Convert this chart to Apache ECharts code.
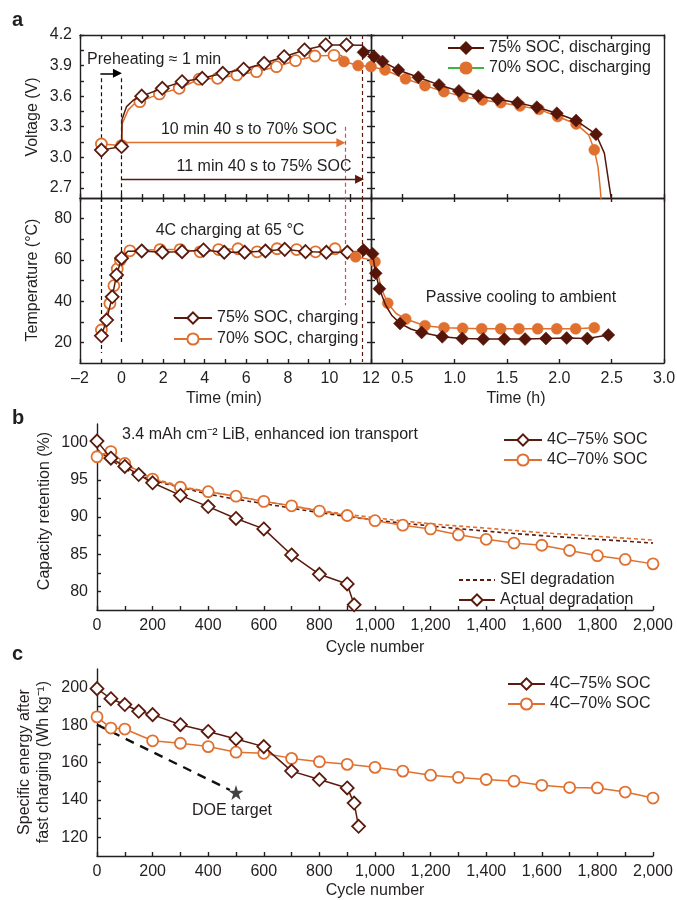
<!DOCTYPE html>
<html><head><meta charset="utf-8">
<script src="https://cdn.jsdelivr.net/npm/echarts@6/dist/echarts.min.js"></script>
<style>html,body{margin:0;padding:0;background:#fff}#c{width:677px;height:900px}</style>
</head><body><div id="c"></div><script>
// ================= DATA =================
// tick values / labels
const minTicks = [-2,-1,0,1,2,3,4,5,6,7,8,9,10,11,12];
const minLabels = [-2,0,2,4,6,8,10,12];
const hourTicks = [0.5,1.0,1.5,2.0,2.5,3.0];
const voltTicks = [2.7,2.85,3.0,3.15,3.3,3.45,3.6,3.75,3.9,4.05,4.2];
const voltLabels = [2.7,3.0,3.3,3.6,3.9,4.2];
const tempTicks = [20,30,40,50,60,70,80];
const tempLabels = [20,40,60,80];
const cycTicks = [0,100,200,300,400,500,600,700,800,900,1000,1100,1200,1300,1400,1500,1600,1700,1800,1900,2000];
const cycLabels = [0,200,400,600,800,1000,1200,1400,1600,1800,2000];
const capTicks = [80,82.5,85,87.5,90,92.5,95,97.5,100];
const capLabels = [80,85,90,95,100];
const enTicks = [120,130,140,150,160,170,180,190,200];
const enLabels = [120,140,160,180,200];

// Panel a: voltage during charging (time, min) – markers and extra curve points
const vCh75Mk = [[-0.97,3.07],[0,3.105],[0.97,3.60],[1.96,3.677],[2.91,3.742],[3.88,3.775],[4.87,3.824],[5.87,3.864],[6.86,3.922],[7.82,3.987],[8.8,4.053],[9.82,4.102],[10.82,4.102]];
const vCh75Ln = [[0.02,3.37],[0.24,3.497],[0.56,3.56],[11.58,4.10],[11.66,4.03]];
const vCh70Mk = [[-0.97,3.13],[0,3.115],[0.88,3.546],[1.82,3.622],[2.77,3.677],[3.73,3.766],[4.62,3.775],[5.55,3.808],[6.49,3.84],[7.45,3.889],[8.37,3.948],[9.3,3.994],[10.22,4.0]];
const vCh70Ln = [[0.03,3.33],[0.32,3.465],[0.64,3.53],[10.58,4.0],[10.7,3.94]];
// discharging, left part (min)
const vDis75LMk = [[11.64,4.03]];
const vDis75LLn = [[12,4.0]];
const vDis70LMk = [[10.7,3.94],[11.38,3.9],[12.0,3.89]];
// discharging, right part (h)
const vDis75RMk = [[0.23,3.99],[0.31,3.94],[0.461,3.857],[0.652,3.785],[0.85,3.71],[1.04,3.651],[1.225,3.602],[1.41,3.57],[1.6,3.536],[1.785,3.491],[1.976,3.432],[2.16,3.36],[2.35,3.226]];
const vDis75RLn = [[0.2,4.0],[2.43,3.04],[2.48,2.7],[2.51,2.5]];
const vDis70RMk = [[0.334,3.857],[0.53,3.77],[0.716,3.703],[0.897,3.644],[1.08,3.595],[1.264,3.563],[1.44,3.536],[1.624,3.504],[1.805,3.47],[1.984,3.40],[2.16,3.327],[2.334,3.073]];
const vDis70RLn = [[0.2,3.89],[2.28,3.22],[2.37,2.9],[2.39,2.7],[2.405,2.5]];

// Panel a: temperature during charging (min)
const tCh75Mk = [[-0.97,23.2],[-0.72,30.8],[-0.45,42.1],[-0.24,52.7],[0,60.8],[0.97,64.3],[1.96,63.7],[2.91,64.0],[3.94,64.8],[4.94,63.7],[5.92,63.7],[6.92,64.3],[7.85,65.1],[8.85,64.0],[9.85,63.7],[10.86,63.7]];
const tCh75Ln = [[0.3,64.2],[11.5,64.2],[11.64,64.8]];
const tCh70Mk = [[-0.97,26.0],[-0.56,38.9],[-0.37,47.5],[-0.21,55.6],[-0.06,60.0],[0.4,64.4],[1.85,65.0],[2.82,65.0],[3.78,63.9],[4.67,65.0],[5.6,65.4],[6.52,63.9],[7.48,65.4],[8.42,65.0],[9.33,63.9],[10.27,65.4]];
const tCh70Ln = [[0.2,63.5],[10.7,64.5],[11.26,61.5]];
const tDis75LMk = [[11.64,64.8]];
const tDis75LLn = [[12,64.0]];
const tDis70LMk = [[11.26,61.5]];
const tDis70LLn = [[12,60.0]];
// cooling (h)
const tDis75RMk = [[0.215,63.0],[0.245,53.5],[0.28,46.0],[0.477,29.2],[0.684,24.8],[0.881,22.7],[1.072,21.9],[1.273,21.6],[1.474,21.6],[1.672,21.6],[1.872,21.9],[2.07,22.1],[2.267,21.9],[2.468,23.6]];
const tDis75RLn = [[0.2,64.0],[0.34,38.0],[0.4,33.0],[0.58,26.5]];
const tDis70RMk = [[0.238,59.1],[0.36,39.0],[0.532,31.3],[0.716,28.1],[0.898,27.1],[1.076,26.8],[1.258,26.6],[1.44,26.6],[1.614,26.6],[1.793,26.6],[1.975,26.6],[2.156,26.6],[2.334,27.1]];
const tDis70RLn = [[0.2,60.0],[0.3,46.0],[0.44,34.0]];

// Panel b: capacity retention (%) vs cycle
const b75 = [[0,100.2],[50,97.9],[100,96.8],[150,95.7],[200,94.6],[300,92.9],[400,91.4],[500,89.8],[600,88.4],[700,84.9],[800,82.3],[900,81.0],[925,78.2]];
const b70 = [[0,98.1],[50,98.8],[100,97.2],[200,95.1],[300,94.0],[400,93.4],[500,92.8],[600,92.1],[700,91.5],[800,90.8],[900,90.2],[1000,89.5],[1100,88.9],[1200,88.4],[1300,87.6],[1400,87.0],[1500,86.5],[1600,86.2],[1700,85.5],[1800,84.8],[1900,84.3],[2000,83.7]];
const sei75 = [[0,99.1],[100,96.5],[200,95.0],[300,94.0],[400,93.1],[500,92.4],[600,91.8],[800,90.6],[1000,89.6],[1200,88.8],[1400,88.1],[1600,87.5],[1800,87.0],[2000,86.5]];
const sei70 = [[0,98.3],[100,97.0],[200,95.3],[300,94.2],[400,93.4],[500,92.8],[600,92.1],[800,90.9],[1000,89.9],[1200,89.1],[1400,88.5],[1600,87.9],[1800,87.4],[2000,86.9]];

// Panel c: specific energy (Wh/kg) vs cycle
const c75 = [[0,199.5],[50,194.1],[100,191.0],[150,187.4],[200,185.6],[300,180.2],[400,176.6],[500,172.6],[600,168.5],[700,155.4],[800,150.9],[900,146.4],[925,138.3],[941,125.9]];
const c70 = [[0,184.4],[50,178.4],[100,177.9],[200,171.6],[300,170.3],[400,168.5],[500,165.5],[600,164.9],[700,162.2],[800,160.4],[900,159.0],[1000,157.4],[1100,155.4],[1200,153.2],[1300,152.0],[1400,150.9],[1500,150.0],[1600,147.8],[1700,146.6],[1800,146.4],[1900,144.2],[2000,141.0]];
const doeLine = [[0,180.2],[478,145.3]];
const doeStar = [[500,143.9]];

// annotation lines (data coords)
const preheatArrow = [[-1.02,3.824],[-0.2,3.824]];
const arrow70 = [[0,3.143],[10.55,3.143]];
const arrow75 = [[0,2.784],[11.45,2.784]];

// ================= CHART =================
const DARK = '#5a1a0e', DARKF = '#561509', ORANGE = '#e0702f', RED = '#e8424f', GREEN = '#3bb54a', INK = '#231f20';
const FONT = '"Liberation Sans", Arial, Helvetica, sans-serif';
const FS = 16;

function merge(mk, ln) {
  const pts = mk.map(p => ({v: p, m: 1})).concat((ln || []).map(p => ({v: p, m: 0})));
  pts.sort((a, b) => a.v[0] - b.v[0]);
  return pts.map(p => p.m ? {value: p.v} : {value: p.v, symbol: 'none'});
}
function ser(name, xi, yi, data, sym, filled, color, z) {
  return {
    type: 'line', name, xAxisIndex: xi, yAxisIndex: yi, data,
    symbol: sym, symbolSize: sym === 'diamond' ? 13 : 11, showSymbol: true, showAllSymbol: true,
    clip: true, z: z, animation: false,
    itemStyle: filled ? {color: color, borderColor: color, borderWidth: 0.5} : {color: '#fff', borderColor: color, borderWidth: 1.8},
    lineStyle: {color: color, width: 1.5},
    emphasis: {disabled: true}
  };
}
function seg(xi, yi, coords, color, dashed, arrow, width) {
  return {
    type: 'lines', coordinateSystem: 'cartesian2d', xAxisIndex: xi, yAxisIndex: yi,
    polyline: false, silent: true, animation: false, z: 1,
    symbol: arrow ? ['none', 'triangle'] : ['none', 'none'], symbolSize: arrow ? [7, 9] : 0,
    lineStyle: {color: color, width: width || 1.2, type: dashed ? [4, 3] : 'solid', opacity: 1},
    data: [{coords: coords}]
  };
}
const lineSt = {color: INK, width: 1.4};
const fmtCyc = v => v >= 1000 ? Math.floor(v / 1000) + ',' + String(v % 1000).padStart(3, '0') : String(v);
const fmtMin = v => v < 0 ? '\u2013' + (-v) : String(v);

function ax(o) {
  const a = {
    type: 'value', splitLine: {show: false},
    axisLine: {show: true, onZero: false, lineStyle: lineSt},
    axisTick: {show: true, inside: true, length: 4, lineStyle: lineSt},
    axisLabel: {show: false}
  };
  if (o.ticks) { a.axisTick.customValues = o.ticks; delete o.ticks; }
  if (o.noTick) { a.axisTick.show = false; delete o.noTick; }
  if (o.labels) {
    a.axisLabel = {show: true, customValues: o.labels, formatter: o.fmt || (v => String(v)),
      color: INK, fontFamily: FONT, fontSize: FS, margin: o.margin || 8};
    delete o.labels; delete o.fmt; delete o.margin;
  }
  return Object.assign(a, o);
}

const grids = [
  {left: 80, top: 35, width: 291, height: 163},
  {left: 371, top: 35, width: 293, height: 163},
  {left: 80, top: 198, width: 291, height: 165},
  {left: 371, top: 198, width: 293, height: 165},
  {left: 97, top: 424, width: 556, height: 186},
  {left: 97, top: 669, width: 556, height: 187}
].map(g => Object.assign(g, {outerBoundsMode: 'none', containLabel: false}));

const xAxis = [
  ax({gridIndex: 0, position: 'bottom', min: -2, max: 12, ticks: minTicks}),
  ax({gridIndex: 0, position: 'top', min: -2, max: 12, ticks: minTicks}),
  ax({gridIndex: 1, position: 'bottom', min: 0.2, max: 3.0, ticks: hourTicks}),
  ax({gridIndex: 1, position: 'top', min: 0.2, max: 3.0, ticks: hourTicks}),
  ax({gridIndex: 2, position: 'bottom', min: -2, max: 12, ticks: minTicks, labels: minLabels, fmt: fmtMin}),
  ax({gridIndex: 2, position: 'top', min: -2, max: 12, ticks: minTicks}),
  ax({gridIndex: 3, position: 'bottom', min: 0.2, max: 3.0, ticks: hourTicks, labels: hourTicks, fmt: v => v.toFixed(1)}),
  ax({gridIndex: 3, position: 'top', min: 0.2, max: 3.0, ticks: hourTicks}),
  ax({gridIndex: 4, position: 'bottom', min: 0, max: 2000, ticks: cycTicks, labels: cycLabels, fmt: fmtCyc, margin: 8}),
  ax({gridIndex: 5, position: 'bottom', min: 0, max: 2000, ticks: cycTicks, labels: cycLabels, fmt: fmtCyc, margin: 8})
];
const yAxis = [
  ax({gridIndex: 0, position: 'left', min: 2.6, max: 4.2, ticks: voltTicks, labels: voltLabels, fmt: v => v.toFixed(1)}),
  ax({gridIndex: 0, position: 'right', min: 2.6, max: 4.2, ticks: voltTicks}),
  ax({gridIndex: 1, position: 'left', min: 2.6, max: 4.2, ticks: voltTicks}),
  ax({gridIndex: 1, position: 'right', min: 2.6, max: 4.2, noTick: true}),
  ax({gridIndex: 2, position: 'left', min: 10, max: 90, ticks: tempTicks, labels: tempLabels}),
  ax({gridIndex: 2, position: 'right', min: 10, max: 90, ticks: tempTicks}),
  ax({gridIndex: 3, position: 'left', min: 10, max: 90, ticks: tempTicks}),
  ax({gridIndex: 3, position: 'right', min: 10, max: 90, noTick: true}),
  ax({gridIndex: 4, position: 'left', min: 77.5, max: 102.5, ticks: capTicks, labels: capLabels, margin: 9}),
  ax({gridIndex: 5, position: 'left', min: 110, max: 210, ticks: enTicks, labels: enLabels, margin: 9})
];

const N75c = '75% SOC, charging', N70c = '70% SOC, charging', N75d = '75% SOC, discharging', N70d = '70% SOC, discharging';
const B75 = '4C\u201375% SOC', B70 = '4C\u201370% SOC';
const STAR = 'path://M50,0 L61.2,34.5 L97.6,34.5 L68.2,55.9 L79.4,90.5 L50,69.1 L20.6,90.5 L31.8,55.9 L2.4,34.5 L38.8,34.5 Z';

const series = [
  // annotation lines panel a
  seg(0, 0, [[-1, 3.775], [-1, 2.6]], '#111', true),
  seg(0, 0, [[0, 3.775], [0, 2.6]], '#111', true),
  seg(0, 0, [[10.76, 3.3], [10.76, 2.6]], RED, true),
  seg(0, 0, [[11.56, 4.2], [11.56, 2.6]], DARK, true),
  seg(4, 4, [[-1, 90], [-1, 14.8]], '#111', true),
  seg(4, 4, [[0, 90], [0, 18.7]], '#111', true),
  seg(4, 4, [[10.76, 90], [10.76, 38]], RED, true),
  seg(4, 4, [[11.56, 90], [11.56, 10.5]], DARK, true),
  seg(0, 0, preheatArrow, '#000', false, true, 1.6),
  seg(0, 0, arrow70, ORANGE, false, true, 1.3),
  seg(0, 0, arrow75, DARK, false, true, 1.3),
  // voltage
  ser(N70c, 0, 0, merge(vCh70Mk, vCh70Ln), 'circle', false, ORANGE, 3),
  ser(N75c, 0, 0, merge(vCh75Mk, vCh75Ln), 'diamond', false, DARK, 4),
  ser(N70d, 0, 0, merge(vDis70LMk), 'circle', true, ORANGE, 5),
  ser(N75d, 0, 0, merge(vDis75LMk, vDis75LLn), 'diamond', true, DARKF, 6),
  ser(N70d, 2, 2, merge(vDis70RMk, vDis70RLn), 'circle', true, ORANGE, 5),
  ser(N75d, 2, 2, merge(vDis75RMk, vDis75RLn), 'diamond', true, DARKF, 6),
  // temperature
  ser(N70c, 4, 4, merge(tCh70Mk, tCh70Ln), 'circle', false, ORANGE, 3),
  ser(N75c, 4, 4, merge(tCh75Mk, tCh75Ln), 'diamond', false, DARK, 4),
  ser(N70d, 4, 4, merge(tDis70LMk, tDis70LLn), 'circle', true, ORANGE, 5),
  ser(N75d, 4, 4, merge(tDis75LMk, tDis75LLn), 'diamond', true, DARKF, 6),
  ser(N70d, 6, 6, merge(tDis70RMk, tDis70RLn), 'circle', true, ORANGE, 5),
  ser(N75d, 6, 6, merge(tDis75RMk, tDis75RLn), 'diamond', true, DARKF, 6),
  // panel b
  Object.assign(ser('SEI degradation', 8, 8, sei75, 'none', false, DARK, 2), {smooth: true, lineStyle: {color: DARK, width: 1.6, type: [4, 3]}}),
  Object.assign(ser('SEI 70', 8, 8, sei70, 'none', false, ORANGE, 2), {smooth: true, lineStyle: {color: ORANGE, width: 1.6, type: [4, 3]}}),
  ser(B70, 8, 8, merge(b70), 'circle', false, ORANGE, 3),
  ser(B75, 8, 8, merge(b75), 'diamond', false, DARK, 4),
  ser('Actual degradation', 8, 8, [], 'diamond', false, DARK, 4),
  // panel c
  ser(B70, 9, 9, merge(c70), 'circle', false, ORANGE, 3),
  ser(B75, 9, 9, merge(c75), 'diamond', false, DARK, 4),
  {type: 'line', xAxisIndex: 9, yAxisIndex: 9, data: doeLine, symbol: 'none', silent: true, animation: false,
   lineStyle: {color: '#111', width: 2.4, type: [9, 7]}},
  {type: 'scatter', xAxisIndex: 9, yAxisIndex: 9, data: doeStar, symbol: STAR, symbolSize: 15, silent: true, animation: false,
   itemStyle: {color: '#111'}}
];

const lgBase = {orient: 'vertical', itemHeight: 14, padding: 0, selectedMode: false,
  textStyle: {fontFamily: FONT, fontSize: FS, color: INK, padding: [0, 0, 0, 0]}};
const legend = [
  Object.assign({}, lgBase, {left: 447, top: 40, itemWidth: 36, itemGap: 4,
    data: [N75d, {name: N70d, lineStyle: {color: GREEN}}]}),
  Object.assign({}, lgBase, {left: 173, top: 310, itemWidth: 38, itemGap: 5, data: [N75c, N70c]}),
  Object.assign({}, lgBase, {left: 503, top: 432, itemWidth: 38, itemGap: 4, data: [B75, B70]}),
  Object.assign({}, lgBase, {left: 458, top: 572, itemWidth: 36, itemGap: 4,
    data: [{name: 'SEI degradation', itemStyle: {opacity: 0, borderWidth: 0}}, 'Actual degradation']}),
  Object.assign({}, lgBase, {left: 507, top: 676, itemWidth: 37, itemGap: 4, data: [B75, B70]})
];

function txt(x, y, s, o) {
  return Object.assign({type: 'text', x: x, y: y, silent: true,
    style: Object.assign({text: s, fill: INK, fontFamily: FONT, fontSize: FS, align: 'center', verticalAlign: 'middle'}, (o && o.style) || {})},
    o && o.rot ? {rotation: o.rot} : {});
}
const R = Math.PI / 2;
const graphic = [
  txt(12, 20, 'a', {style: {fontWeight: 'bold', fontSize: 20, align: 'left'}}),
  txt(12, 418, 'b', {style: {fontWeight: 'bold', fontSize: 20, align: 'left'}}),
  txt(12, 654, 'c', {style: {fontWeight: 'bold', fontSize: 20, align: 'left'}}),
  txt(33, 117, 'Voltage (V)', {rot: R}),
  txt(33, 280, 'Temperature (\u00b0C)', {rot: R}),
  txt(224, 399, 'Time (min)'),
  txt(516, 399, 'Time (h)'),
  txt(87, 60, 'Preheating \u2248 1 min', {style: {align: 'left'}}),
  txt(249, 130, '10 min 40 s to 70% SOC'),
  txt(264, 167, '11 min 40 s to 75% SOC'),
  txt(230, 231, '4C charging at 65 \u00b0C'),
  txt(521, 298, 'Passive cooling to ambient'),
  txt(45, 511, 'Capacity retention (%)', {rot: R}),
  txt(122, 435, '3.4 mAh cm\u207b\u00b2 LiB, enhanced ion transport', {style: {align: 'left'}}),
  txt(375, 648, 'Cycle number'),
  txt(25, 762, 'Specific energy after', {rot: R}),
  txt(44, 762, 'fast charging (Wh kg\u207b\u00b9)', {rot: R}),
  txt(232, 811, 'DOE target'),
  txt(375, 891, 'Cycle number')
];

const chart = echarts.init(document.getElementById('c'), null, {renderer: 'canvas'});
chart.setOption({
  animation: false, backgroundColor: '#fff',
  textStyle: {fontFamily: FONT},
  grid: grids, xAxis: xAxis, yAxis: yAxis, series: series, legend: legend, graphic: graphic
});
</script></body></html>
